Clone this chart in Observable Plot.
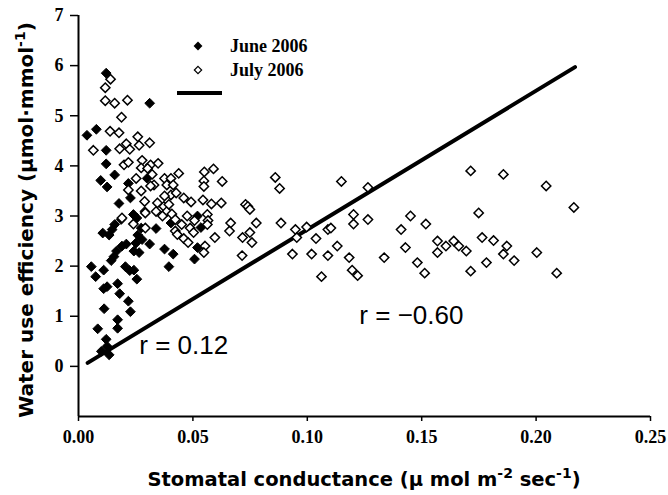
<!DOCTYPE html>
<html>
<head>
<meta charset="utf-8">
<script src="https://cdn.jsdelivr.net/npm/d3@7"></script>
<script src="https://cdn.jsdelivr.net/npm/@observablehq/plot@0.6"></script>
<style>
  html, body { margin: 0; padding: 0; background: #fff; }
  #chart svg { display: block; }
  #chart svg g[aria-label="x-axis tick label"],
  #chart svg g[aria-label="y-axis tick label"] {
    font-size: 18px !important;
    font-weight: bold !important;
    font-family: 'Liberation Serif', serif !important;
  }
</style>
</head>
<body>
<div id="chart"></div>
<script>
// ---- data ----
const juneX = [0.0121,0.0311,0.0037,0.0078,0.0121,0.0121,0.0158,0.0097,0.0125,0.0218,0.0300,0.0177,0.0227,0.0339,0.0404,0.0240,0.0255,0.0134,0.0106,0.0158,0.0186,0.0259,0.0190,0.0209,0.0166,0.0143,0.0155,0.0251,0.0278,0.0311,0.0265,0.0242,0.0376,0.0414,0.0395,0.0507,0.0520,0.0520,0.0535,0.0056,0.0075,0.0110,0.0110,0.0125,0.0171,0.0180,0.0205,0.0224,0.0242,0.0255,0.0218,0.0112,0.0227,0.0171,0.0171,0.0084,0.0121,0.0125,0.0134,0.0100,0.0147,0.0290,0.0274];
const juneY = [5.85,5.25,4.61,4.73,4.31,4.04,3.82,3.71,3.58,3.65,3.75,3.25,3.36,2.75,2.86,3.03,2.96,2.62,2.66,2.83,2.93,2.62,2.40,2.44,2.30,2.11,2.19,2.46,2.53,2.44,2.27,2.30,2.34,2.24,1.99,2.14,2.37,3.00,2.77,1.99,1.79,1.92,1.55,1.59,1.65,1.45,1.99,1.91,1.92,1.74,1.30,1.15,1.09,0.93,0.76,0.75,0.54,0.40,0.23,0.30,2.73,3.09,2.76];

const julyX = [0.0140,0.0117,0.0117,0.0158,0.0214,0.0188,0.0138,0.0177,0.0065,0.0180,0.0209,0.0259,0.0311,0.0265,0.0224,0.0199,0.0218,0.0278,0.0315,0.0348,0.0274,0.0302,0.0252,0.0322,0.0330,0.0218,0.0274,0.0376,0.0404,0.0438,0.0386,0.0414,0.0404,0.0376,0.0427,0.0460,0.0492,0.0345,0.0373,0.0386,0.0408,0.0367,0.0292,0.0190,0.0240,0.0292,0.0423,0.0451,0.0475,0.0488,0.0423,0.0432,0.0460,0.0479,0.0503,0.0507,0.0544,0.0550,0.0548,0.0548,0.0590,0.0628,0.0581,0.0624,0.0563,0.0566,0.0563,0.0553,0.0548,0.0596,0.0665,0.0660,0.0717,0.0715,0.0730,0.0740,0.0749,0.0749,0.0758,0.0777,0.0860,0.0879,0.0885,0.0935,0.0948,0.0954,0.0997,0.1019,0.1038,0.1062,0.1090,0.1103,0.1090,0.1131,0.1149,0.1183,0.1196,0.1202,0.1202,0.1220,0.1265,0.1265,0.1336,0.1410,0.1429,0.1451,0.1481,0.1513,0.1518,0.1569,0.1569,0.1606,0.1640,0.1662,0.1695,0.1714,0.1714,0.1749,0.1764,0.1783,0.1814,0.1857,0.1857,0.1872,0.1904,0.2003,0.2044,0.2090,0.2165,0.0289,0.0315,0.0339,0.0395];
const julyY = [5.73,5.56,5.30,5.25,5.31,4.97,4.69,4.66,4.31,4.34,4.44,4.58,4.46,4.41,4.33,4.02,4.07,4.11,4.02,4.05,3.96,3.95,3.75,3.83,3.62,3.52,3.50,3.75,3.75,3.85,3.62,3.62,3.42,3.40,3.46,3.36,3.28,3.26,3.19,3.09,3.04,3.00,3.06,2.96,2.84,2.76,2.93,2.83,3.00,2.76,2.70,2.63,2.55,2.47,2.67,2.91,3.32,3.88,3.70,3.59,3.94,3.69,3.24,3.26,3.03,2.91,2.83,2.40,2.27,2.57,2.86,2.70,2.57,2.21,3.23,3.19,3.13,2.67,2.47,2.86,3.77,3.55,2.86,2.24,2.73,2.57,2.78,2.24,2.55,1.79,2.73,2.76,2.21,2.40,3.69,2.17,1.92,3.03,2.84,1.81,3.57,2.93,2.17,2.73,2.37,3.00,2.07,1.86,2.84,2.50,2.27,2.40,2.50,2.40,2.30,3.90,1.90,3.06,2.57,2.07,2.51,3.83,2.24,2.40,2.11,2.27,3.60,1.86,3.17,3.29,3.60,3.09,3.23];

const fitX = [0.004, 0.217];
const fitY = [0.07, 5.97];

const xTicks = [0, 0.05, 0.10, 0.15, 0.20, 0.25];
const yTicks = [0, 1, 2, 3, 4, 5, 6, 7];

const seriesNames = ["June 2006", "July 2006"];
const rLabels = ["r = 0.12", "r = \u22120.60"];
const rX = [0.046, 0.1455];
const rY = [0.42, 1.02];

// ---- build tables ----
const june = juneX.map((x, i) => ({x, y: juneY[i]}));
const july = julyX.map((x, i) => ({x, y: julyY[i]}));
const fit = fitX.map((x, i) => ({x, y: fitY[i]}));
const rText = rLabels.map((t, i) => ({t, x: rX[i], y: rY[i]}));

const svg = Plot.plot({
  width: 668,
  height: 495,
  marginLeft: 78,
  marginRight: 18,
  marginTop: 15,
  marginBottom: 79,
  style: {background: "#fff", color: "#000", fontFamily: "'Liberation Serif', serif"},
  x: {domain: [0, 0.25], label: null},
  y: {domain: [-1, 7], label: null},
  marks: [
    Plot.axisX({ticks: xTicks, tickSize: 5, tickPadding: 9, tickFormat: d3.format(".2f"), label: null, strokeWidth: 1.5}),
    Plot.axisY({ticks: yTicks, tickSize: 8, tickPadding: 7, tickFormat: d3.format("d"), label: null, strokeWidth: 1.5}),
    Plot.ruleX([0], {stroke: "#000", strokeWidth: 2}),
    Plot.ruleY([-1], {stroke: "#000", strokeWidth: 2}),
    Plot.line(fit, {x: "x", y: "y", stroke: "#000", strokeWidth: 4}),
    Plot.dot(june, {x: "x", y: "y", symbol: "diamond2", r: 4.4, fill: "#000", stroke: "#000", strokeWidth: 1}),
    Plot.dot(july, {x: "x", y: "y", symbol: "diamond2", r: 4.2, fill: "#fff", stroke: "#000", strokeWidth: 1.5}),
    Plot.text(rText, {x: "x", y: "y", text: "t", fontSize: 26, fontFamily: "'Liberation Sans', sans-serif", fill: "#000"})
  ]
});

document.getElementById("chart").appendChild(svg);

const s = d3.select(svg);
const titleFont = "'DejaVu Sans', Verdana, sans-serif";

// x axis title with superscripts
const xt = s.append("text")
  .attr("x", 364).attr("y", 486)
  .attr("text-anchor", "middle")
  .style("font-family", titleFont).style("font-weight", "bold").style("font-size", "19.5px")
  .attr("fill", "#000");
xt.append("tspan").text("Stomatal conductance (\u00b5 mol m");
xt.append("tspan").attr("dy", -8).style("font-size", "14px").text("-2");
xt.append("tspan").attr("dy", 8).text(" sec");
xt.append("tspan").attr("dy", -8).style("font-size", "14px").text("-1");
xt.append("tspan").attr("dy", 8).text(")");

// y axis title
const yt = s.append("text")
  .attr("transform", "translate(33,220) rotate(-90)")
  .attr("text-anchor", "middle")
  .style("font-family", titleFont).style("font-weight", "bold").style("font-size", "20px")
  .attr("fill", "#000");
yt.append("tspan").text("Water use efficiency (\u00b5mol\u00b7mmol");
yt.append("tspan").attr("dy", -8).style("font-size", "14px").text("-1");
yt.append("tspan").attr("dy", 8).text(")");

// legend
const lg = s.append("g").attr("text-anchor", "start");
lg.append("path").attr("d", d3.symbol(d3.symbolDiamond2, Math.PI * 4 * 4)()).attr("transform", "translate(198,46)").attr("fill", "#000");
lg.append("path").attr("d", d3.symbol(d3.symbolDiamond2, Math.PI * 3.3 * 3.3)()).attr("transform", "translate(198,70)")
  .attr("fill", "#fff").attr("stroke", "#000").attr("stroke-width", 1.2);
lg.append("text").attr("x", 230).attr("y", 52).text(seriesNames[0])
  .style("font-family", "'Liberation Serif', serif").style("font-weight", "bold").style("font-size", "18px").attr("fill", "#000");
lg.append("text").attr("x", 230).attr("y", 76).text(seriesNames[1])
  .style("font-family", "'Liberation Serif', serif").style("font-weight", "bold").style("font-size", "18px").attr("fill", "#000");
lg.append("line").attr("x1", 177).attr("x2", 222).attr("y1", 93).attr("y2", 93)
  .attr("stroke", "#000").attr("stroke-width", 4);
</script>
</body>
</html>
